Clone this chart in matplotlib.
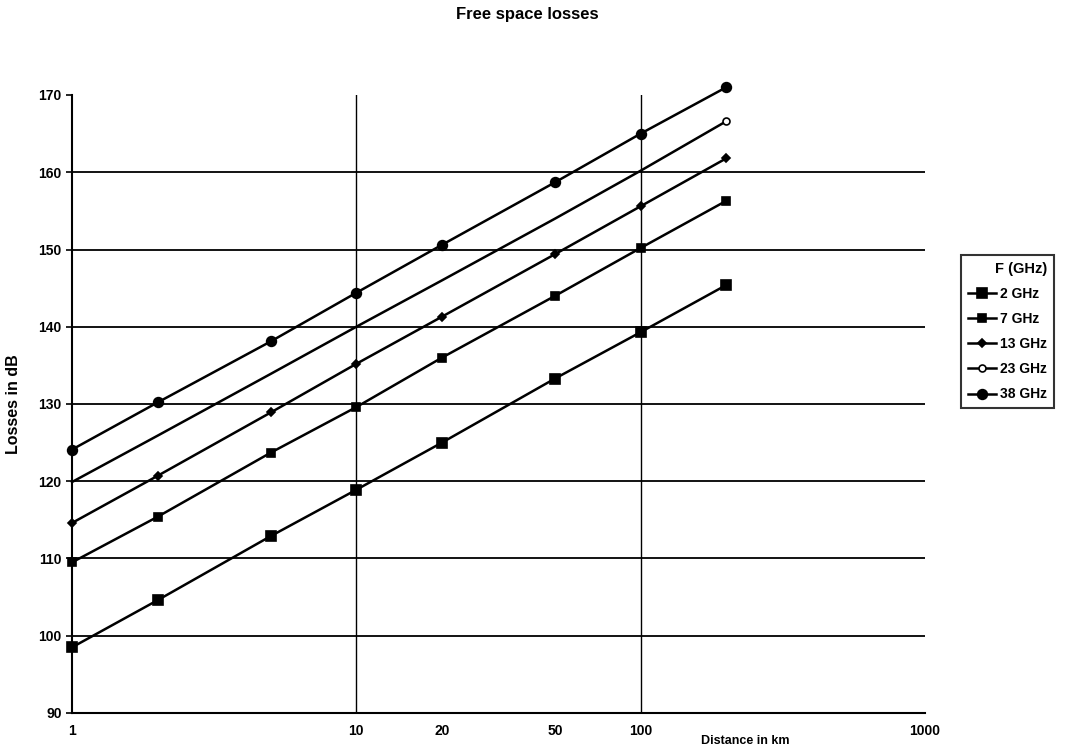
import matplotlib
matplotlib.use("Agg")
import matplotlib.pyplot as plt

plt.rcParams['font.family'] = ['Liberation Sans', 'DejaVu Sans']
plt.rcParams['font.weight'] = 'bold'

distance_km = [1, 2, 5, 10, 20, 50, 100, 200]
loss_2ghz = [98.5, 104.6, 112.9, 118.9, 125.0, 133.3, 139.3, 145.4]
loss_7ghz = [109.5, 115.4, 123.7, 129.6, 136.0, 144.0, 150.2, 156.3]
loss_13ghz = [114.6, 120.7, 128.9, 135.2, 141.3, 149.4, 155.6, 161.8]
loss_23ghz = [119.9, 125.9, 133.9, 140.0, 146.0, 154.0, 160.2, 166.6]
loss_38ghz = [124.1, 130.2, 138.1, 144.4, 150.6, 158.7, 165.0, 171.0]
series_labels = ["2 GHz", "7 GHz", "13 GHz", "23 GHz", "38 GHz"]

x_ticks = [1, 10, 20, 50, 100, 1000]
x_tick_labels = ["1", "10", "20", "50", "100", "1000"]
y_ticks = [90, 100, 110, 120, 130, 140, 150, 160, 170]
h_grid = [100, 110, 120, 130, 140, 150, 160]
v_grid = [10, 100]

fig = plt.figure(figsize=(10.68, 7.48), dpi=100)
ax = fig.add_axes([72 / 1068, 1 - 713 / 748, (925 - 72) / 1068, (713 - 95) / 748])

ax.set_xscale('log')
ax.set_xlim(1, 1000)
ax.set_ylim(90, 170)

for yv in h_grid:
    ax.axhline(yv, color='black', lw=1.3, zorder=1)
for xv in v_grid:
    ax.axvline(xv, color='black', lw=1.0, zorder=1)

styles = [
    dict(marker='s', ms=6.5, mfc='black'),
    dict(marker='s', ms=6, mfc='black'),
    dict(marker='D', ms=4.5, mfc='black'),
    dict(marker='o', ms=5, mfc='white', markevery=[-1]),
    dict(marker='o', ms=7, mfc='black'),
]
all_series = [loss_2ghz, loss_7ghz, loss_13ghz, loss_23ghz, loss_38ghz]
handles = []
for vals, lab, st in zip(all_series, series_labels, styles):
    h, = ax.plot(distance_km, vals, color='black', lw=1.8, mec='black',
                 mew=1.2, label=lab, zorder=3, clip_on=False, **st)
    handles.append(h)

ax.set_xticks(x_ticks)
ax.set_xticklabels(x_tick_labels)
ax.xaxis.set_minor_locator(matplotlib.ticker.NullLocator())
ax.set_yticks(y_ticks)
ax.tick_params(axis='both', labelsize=10, width=1.2, length=4, colors='black')
ax.tick_params(axis='x', length=0, pad=8)

for s in ['top', 'right']:
    ax.spines[s].set_visible(False)
for s in ['left', 'bottom']:
    ax.spines[s].set_linewidth(1.5)

fig.text(527 / 1068, 1 - 15 / 748, "Free space losses", fontsize=12,
         fontweight='bold', ha='center', va='center')
ax.set_xlabel("Distance in km", fontsize=9, fontweight='bold')
ax.xaxis.set_label_coords(0.789, -0.036)
ax.set_ylabel("Losses in dB", fontsize=11.5, fontweight='bold')
ax.yaxis.set_label_coords(-0.06, 0.5)

leg = fig.legend(handles=handles, labels=series_labels, title="F (GHz)",
                 loc='upper left', bbox_to_anchor=(954 / 1068, 1 - 248 / 748),
                 fontsize=10, title_fontproperties={'weight': 'bold', 'size': 10.5},
                 frameon=True, fancybox=False, edgecolor='black',
                 handlelength=2.0, handletextpad=0.3, labelspacing=0.8,
                 borderpad=0.5, alignment='right')
leg.get_frame().set_linewidth(1.5)

fig.savefig("out.png", dpi=100, facecolor='white')
